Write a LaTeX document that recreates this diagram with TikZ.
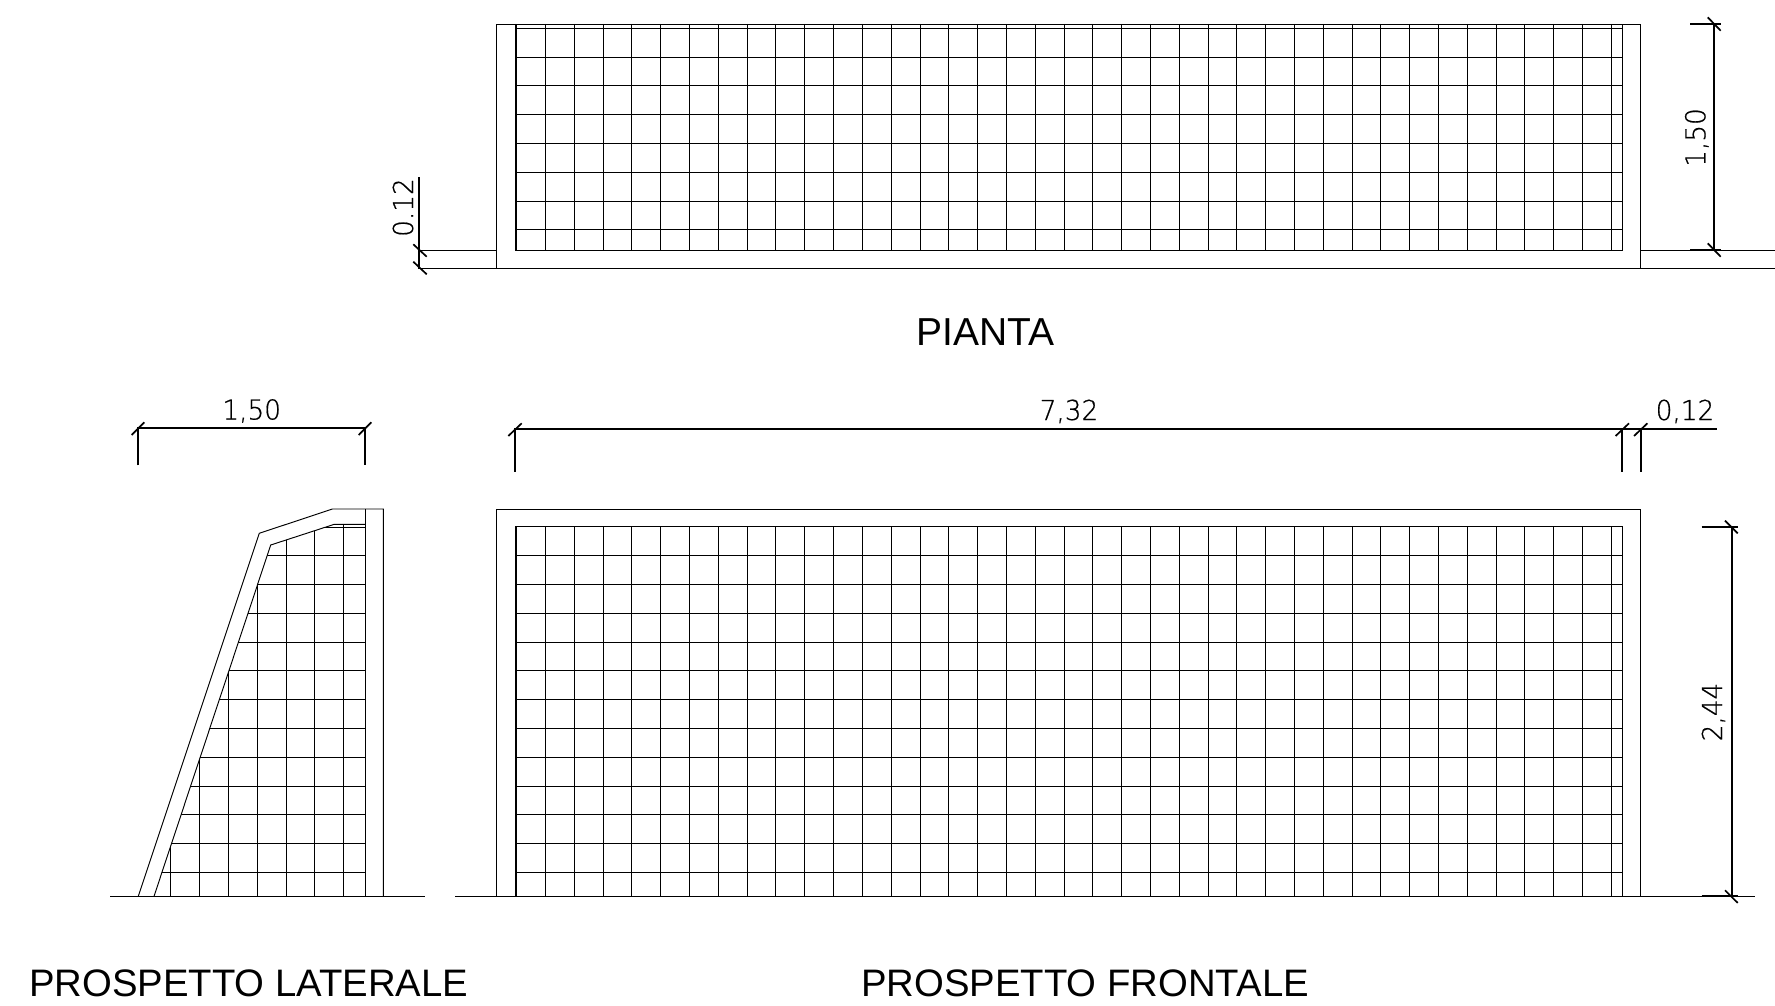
\documentclass[tikz,border=0pt]{standalone}
\usepackage{fontspec}
\setmainfont{Liberation Sans}
\newfontfamily\dimfont[FakeBold=0.6]{DejaVu Sans ExtraLight}
\newcommand{\dimstr}[1]{\scalebox{0.96}[1]{\dimfont\fontsize{27.4}{30}\selectfont #1}}
\tikzset{
  thin line/.style={line width=0.95pt,black},
  net line/.style={line width=0.95pt,black},
  dim line/.style={line width=1.7pt,black},
  dim label/.style={inner sep=0pt,anchor=base},
  title label/.style={inner sep=0pt,anchor=base,font=\fontsize{38.3}{40}\selectfont},
}
\begin{document}
\begin{tikzpicture}[x=1pt,y=-1pt]
\path[use as bounding box,fill=white] (0,0) rectangle (1775,1006);
% ---------- PIANTA ----------
\draw[thin line] (496.5,250) -- (496.5,24) -- (1640.7,24) -- (1640.7,268);
\draw[thin line] (496.5,250) -- (496.5,268);
\draw[thin line] (418,268) -- (1775,268);
\draw[thin line] (419,250) -- (496.5,250);
\draw[thin line] (1640.7,250) -- (1775,250);
\draw[net line] (515,24) -- (515,250) -- (1622.3,250) -- (1622.3,24);
\draw[net line] (516.7,24) -- (516.7,250);
\draw[net line] (515,28.3) -- (1622.3,28.3);
\foreach \k in {1,...,38} \draw[net line] ({516.7+\k*28.805},24) -- ({516.7+\k*28.805},250);
\foreach \k in {0,...,6} \draw[net line] (515,{57+\k*28.8}) -- (1622.3,{57+\k*28.8});
% dim 0.12 plan
\draw[dim line] (419.3,177) -- (419.3,268);
\draw[dim line] (413.3,244.3) -- (426.7,256.7);
\draw[dim line] (413.3,261.7) -- (426.7,274.3);
\node[dim label,rotate=90] (dimA) at (413,207.5) {\dimstr{0.12}};
% dim 1,50 plan
\draw[dim line] (1714,24) -- (1714,250);
\draw[dim line] (1690,24) -- (1720.7,24);
\draw[dim line] (1690,250) -- (1720.7,250);
\draw[dim line] (1707.7,17.3) -- (1720.7,30.7);
\draw[dim line] (1707.7,243.3) -- (1720.7,256.7);
\node[dim label,rotate=90] (dimB) at (1705.3,137.5) {\dimstr{1,50}};
\node[title label,font=\fontsize{39}{40}\selectfont] (tPianta) at (985.5,345) {PIANTA};
% ---------- PROSPETTO LATERALE ----------
\draw[thin line] (110.3,896.3) -- (425,896.3);
\draw[thin line] (138.3,896.3) -- (259.3,533.3) -- (332.3,509) -- (383.3,509) -- (383.3,896.3);
\draw[thin line] (154,896.3) -- (270.7,545) -- (334.3,524.3) -- (365.3,524.3);
\draw[net line] (365.3,509) -- (365.3,896.3);
\begin{scope}
\clip (154,896.3) -- (270.7,545) -- (334.3,524.3) -- (365.3,524.3) -- (365.3,896.3) -- cycle;
\foreach \k in {0,...,6} \draw[net line] ({170.7+\k*28.85},509) -- ({170.7+\k*28.85},896.3);
\foreach \k in {0,...,11} \draw[net line] (130,{555.7+\k*28.8}) -- (365.3,{555.7+\k*28.8});
\draw[net line] (300,527.3) -- (365.3,527.3);
\end{scope}
% dim 1,50 side
\draw[dim line] (137.7,465.3) -- (137.7,428.3) -- (365,428.3) -- (365,465.3);
\draw[dim line] (131.7,435) -- (144.3,422.3);
\draw[dim line] (358.7,435) -- (371.3,422.3);
\node[dim label] (dimC) at (251.7,419.5) {\dimstr{1,50}};
\node[title label] (tLat) at (248.7,996) {PROSPETTO LATERALE};
% ---------- PROSPETTO FRONTALE ----------
\draw[thin line] (455,896.3) -- (1755,896.3);
\draw[thin line] (496.3,896.3) -- (496.3,509) -- (1640.7,509) -- (1640.7,896.3);
\draw[net line] (515,896.3) -- (515,526.7) -- (1622.3,526.7) -- (1622.3,896.3);
\draw[net line] (516.7,526.7) -- (516.7,896.3);
\foreach \k in {1,...,38} \draw[net line] ({516.7+\k*28.805},526.7) -- ({516.7+\k*28.805},896.3);
\foreach \k in {0,...,11} \draw[net line] (515,{555.7+\k*28.8}) -- (1622.3,{555.7+\k*28.8});
% dim 7,32 / 0,12
\draw[dim line] (515,471.7) -- (515,429.3) -- (1716.7,429.3);
\draw[dim line] (1622.3,429.3) -- (1622.3,471.7);
\draw[dim line] (1640.7,429.3) -- (1640.7,471.7);
\draw[dim line] (508.3,436) -- (521.7,423.3);
\draw[dim line] (1615.6,436) -- (1629,423.3);
\draw[dim line] (1634,436) -- (1647.4,423.3);
\node[dim label] (dimD) at (1069,420) {\dimstr{7,32}};
\node[dim label] (dimE) at (1685,420) {\dimstr{0,12}};
% dim 2,44
\draw[dim line] (1731.7,526.7) -- (1731.7,896.3);
\draw[dim line] (1701.7,526.7) -- (1737.7,526.7);
\draw[dim line] (1701.7,896.3) -- (1737.7,896.3);
\draw[dim line] (1725,520.7) -- (1737.7,533.3);
\draw[dim line] (1725,890.3) -- (1737.7,902.9);
\node[dim label,rotate=90] (dimF) at (1722,712) {\dimstr{2,44}};
\node[title label] (tFront) at (1085,996) {PROSPETTO FRONTALE};
\end{tikzpicture}
\end{document}
